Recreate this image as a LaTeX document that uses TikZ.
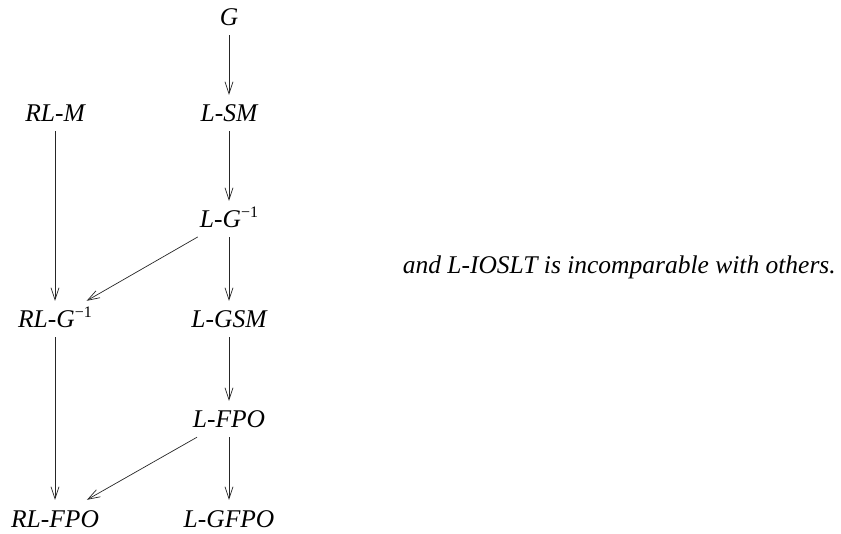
\documentclass[tikz,border=0pt]{standalone}
\usepackage{fontspec}
\setmainfont{Liberation Serif}
\usetikzlibrary{arrows.meta}
\newcommand{\supinv}{\raisebox{10pt}{\fontsize{16}{16}\selectfont\upshape −1}}
\begin{document}
\begin{tikzpicture}[x=1pt,y=-1pt,
  lab/.style={anchor=base,font=\fontsize{25.5}{30}\selectfont\itshape,text height=18pt,text depth=0pt,inner ysep=9pt,inner xsep=2pt},
  arr/.style={draw=black!85,line width=0.7pt,-{Straight Barb[length=12pt,width=8pt,line width=0.7pt]}}]
\useasboundingbox (0,0) rectangle (841,534);
\node[lab] (G) at (229,26) {G};
\node[lab] (RLM) at (55,122) {RL-M};
\node[lab] (LSM) at (229,122) {L-SM};
\node[lab] (LG1) at (229,228) {L-G\/\supinv};
\node[lab] (RLG1) at (55,328) {RL-G\/\supinv};
\node[lab] (LGSM) at (229,328) {L-GSM};
\node[lab] (LFPO) at (229,428) {L-FPO};
\node[lab] (RLFPO) at (55,527) {RL-FPO};
\node[lab] (LGFPO) at (229,527) {L-GFPO};
\node[font=\fontsize{25.5}{30}\selectfont\itshape,anchor=base east,inner sep=0pt] (txt) at (836,274) {and L-IOSLT is incomparable with others.};
\draw[arr] (G) -- (LSM);
\draw[arr] (LSM) -- (LG1);
\draw[arr] (LG1) -- (LGSM);
\draw[arr] (LG1) -- (RLG1);
\draw[arr] (RLM) -- (RLG1);
\draw[arr] (RLG1) -- (RLFPO);
\draw[arr] (LGSM) -- (LFPO);
\draw[arr] (LFPO) -- (LGFPO);
\draw[arr] (LFPO) -- (RLFPO);
\end{tikzpicture}
\end{document}
